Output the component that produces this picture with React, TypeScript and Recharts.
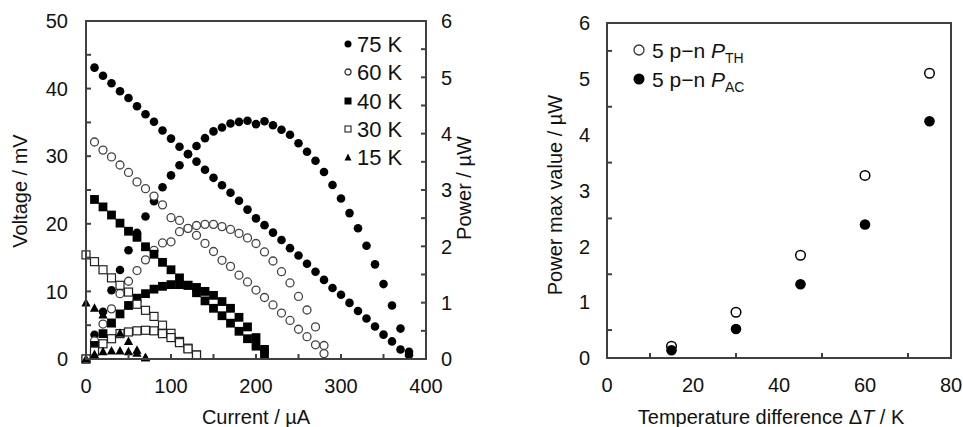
import React from 'react';
import { ScatterChart, Scatter, XAxis, YAxis } from 'recharts';

const FONT = '"Liberation Sans", Arial, sans-serif';
const AXIS = '#404040';
const TXT = '#111';

// ---------- Left chart data (current in µA, voltage in mV, power in µW) ----------
const current75 = [10, 20, 30, 40, 50, 60, 70, 80, 90, 100, 110, 120, 130, 140, 150, 160, 170, 180, 190, 200, 210, 220, 230, 240, 250, 260, 270, 280, 290, 300, 310, 320, 330, 340, 350, 360, 370, 380];
const voltage75 = [43.1, 41.9, 40.8, 39.6, 38.6, 37.4, 36.2, 35.1, 33.8, 32.6, 31.4, 30.3, 29.2, 28.0, 26.8, 25.7, 24.6, 23.4, 22.1, 20.8, 19.8, 18.7, 17.6, 16.4, 15.3, 14.1, 12.9, 11.7, 10.5, 9.5, 8.3, 7.1, 6.0, 4.8, 3.6, 2.6, 1.4, 0.6];
const power75 = [0.43, 0.84, 1.22, 1.58, 1.93, 2.24, 2.53, 2.8, 3.05, 3.26, 3.44, 3.64, 3.78, 3.92, 4.04, 4.11, 4.18, 4.21, 4.23, 4.17, 4.22, 4.15, 4.07, 3.98, 3.83, 3.68, 3.52, 3.32, 3.09, 2.85, 2.59, 2.32, 2.01, 1.68, 1.33, 0.95, 0.54, 0.13];

const current60 = [10, 20, 30, 40, 50, 60, 70, 80, 90, 100, 110, 120, 130, 140, 150, 160, 170, 180, 190, 200, 210, 220, 230, 240, 250, 260, 270, 280];
const voltage60 = [32.1, 30.9, 29.9, 28.7, 27.6, 26.2, 25.2, 24.1, 22.8, 20.9, 20.5, 19.3, 18.3, 17.1, 15.9, 14.6, 13.7, 12.4, 11.4, 10.2, 9.1, 8.0, 6.8, 5.7, 4.4, 3.3, 2.1, 0.8];
const power60 = [0.32, 0.62, 0.89, 1.16, 1.38, 1.57, 1.76, 1.93, 2.06, 2.08, 2.26, 2.32, 2.37, 2.39, 2.39, 2.35, 2.3, 2.23, 2.15, 2.05, 1.9, 1.74, 1.55, 1.35, 1.11, 0.87, 0.57, 0.24];

const current40V = [10, 20, 30, 40, 50, 60, 70, 80, 90, 100, 110, 120, 130, 140, 150, 160, 170, 180, 190, 200, 210];
const voltage40 = [23.6, 22.5, 21.3, 20.1, 18.9, 18.0, 16.6, 15.5, 14.3, 13.2, 12.0, 10.9, 9.8, 8.6, 7.5, 6.4, 5.3, 4.1, 3.0, 1.9, 0.8];
const current40P = [0, 10, 20, 30, 40, 50, 60, 70, 80, 90, 100, 110, 120, 130, 140, 150, 160, 170, 180, 190, 200, 210];
const power40 = [0, 0.24, 0.45, 0.64, 0.8, 0.95, 1.08, 1.16, 1.24, 1.29, 1.32, 1.32, 1.31, 1.27, 1.2, 1.13, 1.02, 0.9, 0.74, 0.57, 0.38, 0.17];

const current30 = [0, 10, 20, 30, 40, 50, 60, 70, 80, 90, 100, 110, 120, 130];
const voltage30 = [15.4, 14.4, 13.2, 12.0, 10.9, 9.9, 8.1, 7.2, 6.3, 5.0, 3.8, 2.6, 1.6, 0.6];
const power30 = [0, 0.14, 0.27, 0.36, 0.45, 0.48, 0.5, 0.51, 0.5, 0.45, 0.38, 0.29, 0.18, 0.07];

const current15 = [0, 10, 20, 30, 40, 50, 60, 70];
const voltage15 = [8.3, 7.5, 6.5, 5.2, 3.8, 2.6, 1.3, 0.2];
const power15 = [0, 0.08, 0.13, 0.14, 0.14, 0.13, 0.1, 0.02];

// ---------- Right chart data ----------
const deltaT = [15, 30, 45, 60, 75];
const powerTH = [0.21, 0.82, 1.84, 3.27, 5.1];
const powerAC = [0.14, 0.52, 1.32, 2.39, 4.24];

// ---------- Tick values ----------
const voltageTicks = [0, 5, 10, 15, 20, 25, 30, 35, 40, 45, 50];
const powerTicks = [0, 0.5, 1, 1.5, 2, 2.5, 3, 3.5, 4, 4.5, 5, 5.5, 6];
const currentTicks = [0, 50, 100, 150, 200, 250, 300, 350, 400];
const tempTicks = [0, 10, 20, 30, 40, 50, 60, 70, 80];

const pairs = (xs: number[], ys: number[]) => xs.map((x, i) => ({ x, y: ys[i] }));

// ---------- layout of the two plot areas ----------
const L = { left: 86, top: 21, width: 340, height: 338, chartW: 490 };
const R = { offset: 500, left: 107, top: 23, width: 344, height: 335, chartW: 463 };
const H = 427;
const BW = 2;

// ---------- markers ----------
const FilledCircle = (p: any) => <circle cx={p.cx} cy={p.cy} r={4.3} fill="#000" />;
const OpenCircle = (p: any) => <circle cx={p.cx} cy={p.cy} r={4} fill="#fff" stroke="#444" strokeWidth={1.3} />;
const FilledSquare = (p: any) => <rect x={p.cx - 4.4} y={p.cy - 4.4} width={8.8} height={8.8} fill="#000" />;
const OpenSquare = (p: any) => <rect x={p.cx - 4} y={p.cy - 4} width={8} height={8} fill="#fff" stroke="#222" strokeWidth={1.2} />;
const FilledTriangle = (p: any) => (
  <polygon points={`${p.cx},${p.cy - 5} ${p.cx - 4.6},${p.cy + 3.5} ${p.cx + 4.6},${p.cy + 3.5}`} fill="#000" />
);
const BigOpenCircle = (p: any) => <circle cx={p.cx} cy={p.cy} r={4.8} fill="#fff" stroke="#000" strokeWidth={1.5} />;
const BigFilledCircle = (p: any) => <circle cx={p.cx} cy={p.cy} r={5.3} fill="#000" />;

// ---------- tick labels ----------
type Kind = 'left' | 'right' | 'bottom';
function makeTick(kind: Kind, showLabel: (v: number) => boolean) {
  return (props: any) => {
    const { x, y, payload } = props;
    const v = payload.value as number;
    if (!showLabel(v)) return <g />;
    const style = { fontFamily: FONT, fontSize: 20, fill: TXT };
    if (kind === 'left')
      return <text x={x} y={y} dy="0.36em" textAnchor="end" style={style}>{String(v)}</text>;
    if (kind === 'right')
      return <text x={x} y={y} dy="0.36em" textAnchor="start" style={style}>{String(v)}</text>;
    return <text x={x} y={y} dy="0.71em" textAnchor="middle" style={style}>{String(v)}</text>;
  };
}

const isInt = (v: number) => Math.abs(v - Math.round(v)) < 1e-9;

const titleStyle: React.CSSProperties = {
  position: 'absolute',
  fontFamily: FONT,
  fontSize: 20,
  color: TXT,
  whiteSpace: 'nowrap',
  lineHeight: 1,
};

function Title({ x, y, rotate, children }: { x: number; y: number; rotate?: boolean; children: React.ReactNode }) {
  return (
    <div
      style={{
        ...titleStyle,
        left: x,
        top: y,
        transform: `translate(-50%, -50%)${rotate ? ' rotate(-90deg)' : ''}`,
      }}
    >
      {children}
    </div>
  );
}

function LegendMark({ kind, size }: { kind: string; size: number }) {
  const s = size;
  const c = s / 2;
  let el: React.ReactNode = null;
  if (kind === 'fc') el = <circle cx={c} cy={c} r={s / 2 - 0.5} fill="#000" />;
  if (kind === 'oc') el = <circle cx={c} cy={c} r={s / 2 - 1} fill="#fff" stroke="#333" strokeWidth={1.3} />;
  if (kind === 'fs') el = <rect x={0.5} y={0.5} width={s - 1} height={s - 1} fill="#000" />;
  if (kind === 'os') el = <rect x={1} y={1} width={s - 2} height={s - 2} fill="#fff" stroke="#333" strokeWidth={1.2} />;
  if (kind === 'ft') el = <polygon points={`${c},0.5 0.5,${s - 0.5} ${s - 0.5},${s - 0.5}`} fill="#000" />;
  return (
    <svg width={s} height={s} style={{ position: 'absolute', left: -s / 2, top: -s / 2 }}>
      {el}
    </svg>
  );
}

const leftLegend = [
  { kind: 'fc', label: '75 K' },
  { kind: 'oc', label: '60 K' },
  { kind: 'fs', label: '40 K' },
  { kind: 'os', label: '30 K' },
  { kind: 'ft', label: '15 K' },
];

// Plot frames and inward tick marks (axis furniture), drawn on top
function Frames() {
  const len = 5;
  const segs: React.ReactNode[] = [];
  const lx = (v: number) => L.left + (v / 400) * L.width;
  const lyV = (v: number) => L.top + L.height - (v / 50) * L.height;
  const lyP = (v: number) => L.top + L.height - (v / 6) * L.height;
  const rx = (v: number) => R.offset + R.left + (v / 80) * R.width;
  const ry = (v: number) => R.top + R.height - (v / 6) * R.height;
  currentTicks.forEach((t) => {
    const x = lx(t);
    segs.push(<line key={`lx${t}`} x1={x} x2={x} y1={L.top + L.height} y2={L.top + L.height - len} stroke={AXIS} strokeWidth={BW} />);
  });
  voltageTicks.forEach((t) => {
    const y = lyV(t);
    segs.push(<line key={`lv${t}`} x1={L.left} x2={L.left + len} y1={y} y2={y} stroke={AXIS} strokeWidth={BW} />);
  });
  powerTicks.forEach((t) => {
    const y = lyP(t);
    segs.push(<line key={`lp${t}`} x1={L.left + L.width} x2={L.left + L.width - len} y1={y} y2={y} stroke={AXIS} strokeWidth={BW} />);
  });
  tempTicks.filter((t) => t % 20 !== 0).forEach((t) => {
    const x = rx(t);
    segs.push(<line key={`rx${t}`} x1={x} x2={x} y1={R.top + R.height} y2={R.top + R.height - len} stroke={AXIS} strokeWidth={BW} />);
  });
  powerTicks.filter((t) => !isInt(t)).forEach((t) => {
    const y = ry(t);
    segs.push(<line key={`ry${t}`} x1={R.offset + R.left} x2={R.offset + R.left + len} y1={y} y2={y} stroke={AXIS} strokeWidth={BW} />);
  });
  return (
    <svg width={963} height={H} style={{ position: 'absolute', left: 0, top: 0 }}>
      <rect x={L.left} y={L.top} width={L.width} height={L.height} fill="none" stroke={AXIS} strokeWidth={BW} />
      <rect x={R.offset + R.left} y={R.top} width={R.width} height={R.height} fill="none" stroke={AXIS} strokeWidth={BW} />
      {segs}
    </svg>
  );
}

export default function App() {
  const left = (
    <ScatterChart width={L.chartW} height={H} margin={{ top: L.top, right: 0, bottom: 0, left: 0 }}>
      <XAxis
        dataKey="x"
        type="number"
        domain={[0, 400]}
        ticks={currentTicks}
        interval={0}
        height={H - L.top - L.height}
        tickSize={0}
        tickMargin={20}
        tickLine={false}
        axisLine={{ stroke: AXIS, strokeWidth: BW }}
        tick={makeTick('bottom', (v) => v % 100 === 0)}
      />
      <YAxis
        yAxisId="v"
        dataKey="y"
        type="number"
        domain={[0, 50]}
        ticks={voltageTicks}
        interval={0}
        width={L.left}
        tickSize={0}
        tickMargin={18}
        tickLine={false}
        axisLine={{ stroke: AXIS, strokeWidth: BW }}
        tick={makeTick('left', (v) => v % 10 === 0)}
      />
      <YAxis
        yAxisId="p"
        orientation="right"
        dataKey="y"
        type="number"
        domain={[0, 6]}
        ticks={powerTicks}
        interval={0}
        width={L.chartW - L.left - L.width}
        tickSize={0}
        tickMargin={15}
        tickLine={false}
        axisLine={{ stroke: AXIS, strokeWidth: BW }}
        tick={makeTick('right', isInt)}
      />
      <Scatter name="75 K V" yAxisId="v" data={pairs(current75, voltage75)} shape={FilledCircle} isAnimationActive={false} />
      <Scatter name="75 K P" yAxisId="p" data={pairs(current75, power75)} shape={FilledCircle} isAnimationActive={false} />
      <Scatter name="60 K V" yAxisId="v" data={pairs(current60, voltage60)} shape={OpenCircle} isAnimationActive={false} />
      <Scatter name="60 K P" yAxisId="p" data={pairs(current60, power60)} shape={OpenCircle} isAnimationActive={false} />
      <Scatter name="40 K V" yAxisId="v" data={pairs(current40V, voltage40)} shape={FilledSquare} isAnimationActive={false} />
      <Scatter name="40 K P" yAxisId="p" data={pairs(current40P, power40)} shape={FilledSquare} isAnimationActive={false} />
      <Scatter name="30 K V" yAxisId="v" data={pairs(current30, voltage30)} shape={OpenSquare} isAnimationActive={false} />
      <Scatter name="30 K P" yAxisId="p" data={pairs(current30, power30)} shape={OpenSquare} isAnimationActive={false} />
      <Scatter name="15 K V" yAxisId="v" data={pairs(current15, voltage15)} shape={FilledTriangle} isAnimationActive={false} />
      <Scatter name="15 K P" yAxisId="p" data={pairs(current15, power15)} shape={FilledTriangle} isAnimationActive={false} />
    </ScatterChart>
  );

  const right = (
    <ScatterChart
      width={R.chartW}
      height={H}
      margin={{ top: R.top, right: R.chartW - R.left - R.width, bottom: 0, left: 0 }}
    >
      <XAxis
        dataKey="x"
        type="number"
        domain={[0, 80]}
        ticks={tempTicks}
        interval={0}
        height={H - R.top - R.height}
        tickSize={0}
        tickMargin={20}
        tickLine={false}
        axisLine={{ stroke: AXIS, strokeWidth: BW }}
        tick={makeTick('bottom', (v) => v % 20 === 0)}
      />
      <YAxis
        dataKey="y"
        type="number"
        domain={[0, 6]}
        ticks={powerTicks}
        interval={0}
        width={R.left}
        tickSize={0}
        tickMargin={17}
        tickLine={false}
        axisLine={{ stroke: AXIS, strokeWidth: BW }}
        tick={makeTick('left', isInt)}
      />
      <Scatter name="5 p-n PTH" data={pairs(deltaT, powerTH)} shape={BigOpenCircle} isAnimationActive={false} />
      <Scatter name="5 p-n PAC" data={pairs(deltaT, powerAC)} shape={BigFilledCircle} isAnimationActive={false} />
    </ScatterChart>
  );

  return (
    <div style={{ position: 'absolute', left: 0, top: 0, width: 963, height: H, background: '#fff', overflow: 'hidden' }}>
      <div style={{ position: 'absolute', left: 0, top: 0 }}>{left}</div>
      <div style={{ position: 'absolute', left: R.offset, top: 0 }}>{right}</div>
      <Frames />

      {/* Left legend */}
      {leftLegend.map((item, i) => {
        const cy = 45 + i * 28.3;
        return (
          <div key={item.label}>
            <div style={{ position: 'absolute', left: 348, top: cy - 1 }}>
              <LegendMark kind={item.kind} size={8} />
            </div>
            <div style={{ ...titleStyle, fontSize: 22, left: 357, top: cy, transform: 'translateY(-50%)' }}>{item.label}</div>
          </div>
        );
      })}

      {/* Right legend */}
      <div style={{ position: 'absolute', left: 639, top: 50 }}>
        <LegendMark kind="oc" size={12} />
      </div>
      <div style={{ ...titleStyle, fontSize: 21, left: 652, top: 50, transform: 'translateY(-50%)' }}>
        5 p−n <i>P</i>
        <span style={{ fontSize: 14, position: 'relative', top: 5 }}>TH</span>
      </div>
      <div style={{ position: 'absolute', left: 639, top: 79 }}>
        <LegendMark kind="fc" size={12} />
      </div>
      <div style={{ ...titleStyle, fontSize: 21, left: 652, top: 79, transform: 'translateY(-50%)' }}>
        5 p−n <i>P</i>
        <span style={{ fontSize: 14, position: 'relative', top: 5 }}>AC</span>
      </div>

      {/* Axis titles */}
      <Title x={20} y={191} rotate>Voltage / mV</Title>
      <Title x={464} y={188} rotate>Power / µW</Title>
      <Title x={256} y={417}>Current / µA</Title>
      <Title x={555} y={195} rotate>Power max value / µW</Title>
      <Title x={771} y={417}>
        Temperature difference Δ<i>T</i> / K
      </Title>
    </div>
  );
}
